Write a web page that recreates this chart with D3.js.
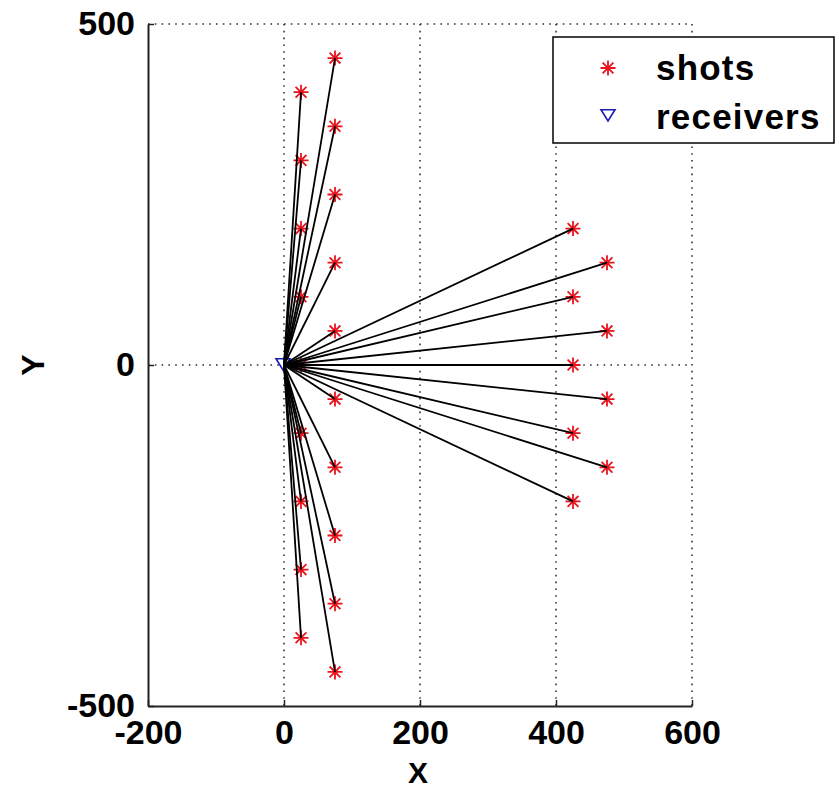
<!DOCTYPE html>
<html><head><meta charset="utf-8">
<script src="https://cdn.jsdelivr.net/npm/d3@7"></script>
<style>body{margin:0;background:#fff}</style>
</head><body>
<svg id="c" width="839" height="790"></svg>
<script>
// Data
const shotsX = [25,25,25,25,25,25,25,25,25, 75,75,75,75,75,75,75,75,75,75, 425,425,425,425,425, 475,475,475,475];
const shotsY = [400,300,200,100,0,-100,-200,-300,-400, 450,350,250,150,50,-50,-150,-250,-350,-450, 200,100,0,-100,-200, 150,50,-50,-150];
const receiversX = [0];
const receiversY = [0];
const xTicks = [-200,0,200,400,600];
const yTicks = [-500,0,500];
const legendLabels = ["shots","receivers"];

const svg = d3.select("#c");
const x = d3.scaleLinear().domain([-200,600]).range([148,692]);
const y = d3.scaleLinear().domain([-500,500]).range([706,24]);
const FONT = "Liberation Sans, Arial, sans-serif";
const axisColor = "#222";

// grid
const grid = svg.append("g").attr("stroke","#333").attr("stroke-width",1.6).attr("stroke-dasharray","1.6,5.2");
xTicks.filter(t=>t>-200).forEach(t=>{
  grid.append("line").attr("x1",x(t)).attr("x2",x(t)).attr("y1",y(500)).attr("y2",y(-500));
});
yTicks.filter(t=>t>-500).forEach(t=>{
  grid.append("line").attr("x1",x(-200)).attr("x2",x(600)).attr("y1",y(t)).attr("y2",y(t));
});

// axes
const fmt = d => String(d);
const xAxis = d3.axisBottom(x).tickValues(xTicks).tickFormat(fmt).tickSizeInner(-6).tickSizeOuter(0).tickPadding(14);
const yAxis = d3.axisLeft(y).tickValues(yTicks).tickFormat(fmt).tickSizeInner(-6).tickSizeOuter(0).tickPadding(13);
const gx = svg.append("g").attr("transform",`translate(0,${y(-500)})`).call(xAxis);
const gy = svg.append("g").attr("transform",`translate(${x(-200)},0)`).call(yAxis);
[gx,gy].forEach(g=>{
  g.select(".domain").attr("stroke",axisColor).attr("stroke-width",2);
  g.selectAll(".tick line").attr("stroke",axisColor).attr("stroke-width",1.5);
  g.selectAll(".tick text").attr("fill","#000").attr("font-family",FONT).attr("font-weight","bold").attr("font-size",34);
});
gy.selectAll(".tick text").attr("dy","0.32em");
gx.selectAll(".tick text").attr("dy","0.72em");

// axis labels
svg.append("text").attr("x",418).attr("y",783).attr("text-anchor","middle")
  .attr("font-family",FONT).attr("font-weight","bold").attr("font-size",30).text("X");
svg.append("text").attr("transform",`translate(44,${y(0)}) rotate(-90)`).attr("text-anchor","middle")
  .attr("font-family",FONT).attr("font-weight","bold").attr("font-size",32).text("Y");

// markers
function star(g, cx, cy, r){
  const d = r*0.72;
  g.append("path").attr("d",`M${cx-r},${cy}H${cx+r}M${cx},${cy-r}V${cy+r}M${cx-d},${cy-d}L${cx+d},${cy+d}M${cx-d},${cy+d}L${cx+d},${cy-d}`)
   .attr("stroke","#e8141c").attr("stroke-width",1.8).attr("fill","none");
}
function tri(g, cx, cy, s){
  g.append("path").attr("d",`M${cx-s},${cy-s*0.75}L${cx+s},${cy-s*0.75}L${cx},${cy+s*0.85}Z`)
   .attr("stroke","#1a1ab4").attr("stroke-width",1.6).attr("fill","none");
}
const mk = svg.append("g");
shotsX.forEach((sx,i)=>star(mk, x(sx), y(shotsY[i]), 7.5));
receiversX.forEach((rx,i)=>tri(mk, x(rx)-1, y(receiversY[i])-1, 7));

// rays
const rays = svg.append("g").attr("stroke","#000").attr("stroke-width",1.8);
shotsX.forEach((sx,i)=>{
  rays.append("line").attr("x1",x(sx)).attr("y1",y(shotsY[i])).attr("x2",x(receiversX[0])).attr("y2",y(receiversY[0]));
});

// legend
const lg = svg.append("g");
lg.append("rect").attr("x",553).attr("y",37).attr("width",281).attr("height",106)
  .attr("fill","#fff").attr("stroke","#111").attr("stroke-width",1.6);
star(lg, 608, 68, 7.5);
tri(lg, 608, 115, 7);
legendLabels.forEach((t,i)=>{
  lg.append("text").attr("x",656).attr("y",80+i*49).attr("font-family",FONT).attr("font-weight","bold")
    .attr("font-size",35).attr("letter-spacing",1.2).attr("fill","#000").text(t);
});
</script>
</body></html>
